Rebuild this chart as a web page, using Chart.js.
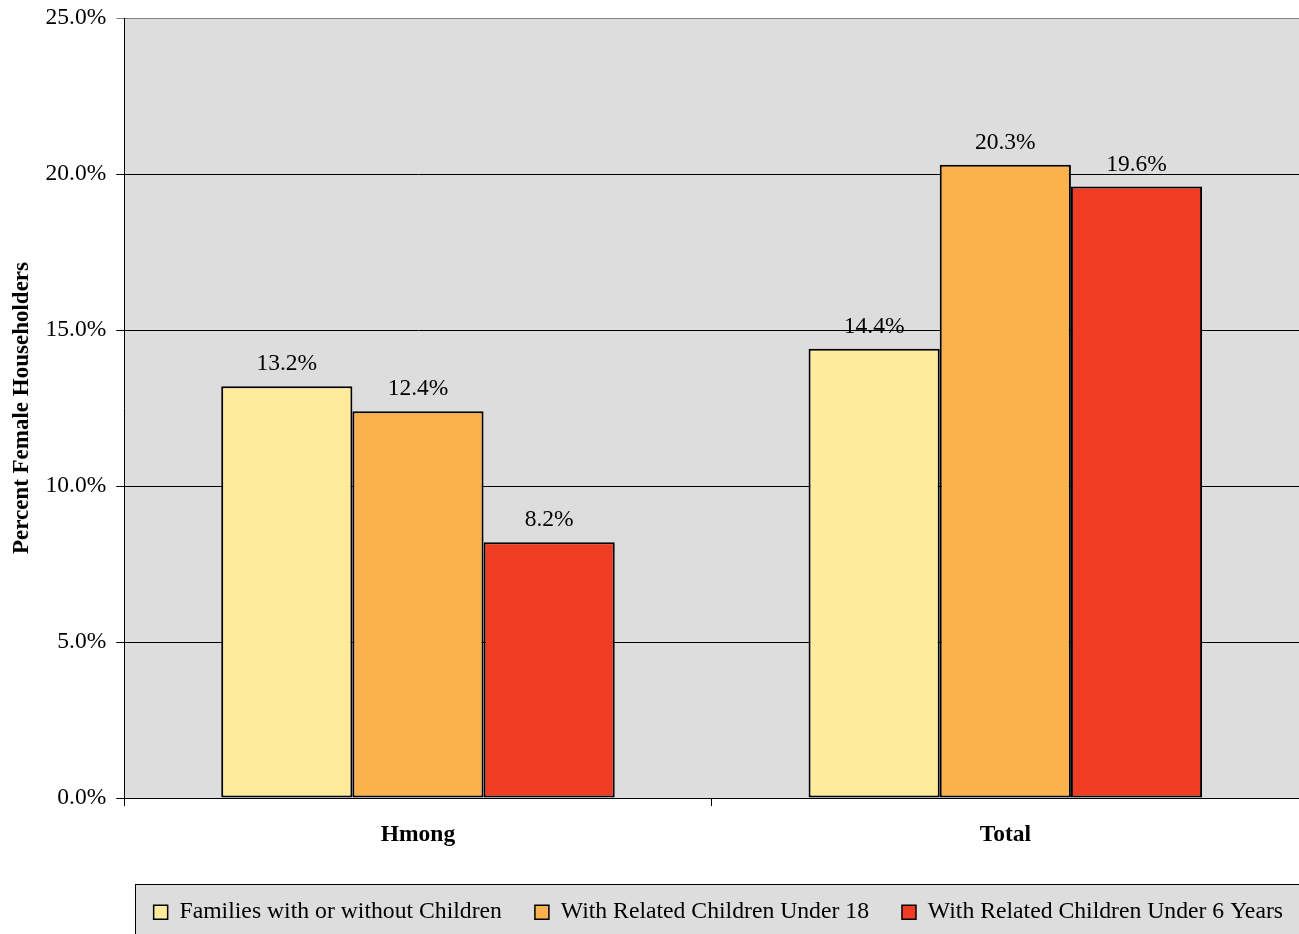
<!DOCTYPE html>
<html>
<head>
<meta charset="utf-8">
<script src="https://cdn.jsdelivr.net/npm/chart.js@4.4.0/dist/chart.umd.min.js"></script>
<style>
html,body{margin:0;padding:0;background:#fff;}
canvas{display:block;}
</style>
</head>
<body>
<canvas id="c" width="1299" height="934" style="width:1299px;height:934px"></canvas>
<script>
const categories = ["Hmong", "Total"];
const seriesNames = ["Families with or without Children", "With Related Children Under 18", "With Related Children Under 6 Years"];
const familiesAll = [13.2, 14.4];
const under18 = [12.4, 20.3];
const under6 = [8.2, 19.6];
const yTicks = [0, 5, 10, 15, 20, 25];
const colors = ["#FFEB9C", "#FBB14C", "#F03C22"];

const FONT = "'Liberation Serif', 'Times New Roman', serif";

const bgPlugin = {
  id: 'bg',
  afterLayout(chart) {
    // legend items end-aligned to the right edge of the legend frame
    if (chart.legend) chart.legend.right = 1316;
  },
  beforeDraw(chart) {
    const {ctx, chartArea: a} = chart;
    ctx.save();
    ctx.fillStyle = '#DDDDDD';
    ctx.fillRect(a.left, a.top, a.right - a.left, a.bottom - a.top);
    const lg = chart.legend;
    if (lg) {
      const top = Math.round(lg.bottom - 50) + 0.5;
      ctx.fillStyle = '#DDDDDD';
      ctx.fillRect(135.5, top, chart.width, chart.height);
      ctx.strokeStyle = '#000';
      ctx.lineWidth = 1;
      ctx.strokeRect(135.5, top, chart.width, chart.height);
    }
    ctx.restore();
  }
};

const labelPlugin = {
  id: 'vlabels',
  afterDatasetsDraw(chart) {
    const {ctx} = chart;
    ctx.save();
    ctx.font = "23.5px " + FONT;
    ctx.fillStyle = '#000';
    ctx.textAlign = 'center';
    ctx.textBaseline = 'alphabetic';
    chart.data.datasets.forEach((ds, i) => {
      const meta = chart.getDatasetMeta(i);
      meta.data.forEach((el, j) => {
        ctx.fillText(ds.data[j].toFixed(1) + '%', el.x, el.y - 16);
      });
    });
    ctx.restore();
  }
};

new Chart(document.getElementById('c'), {
  type: 'bar',
  data: {
    labels: categories,
    datasets: [
      {label: seriesNames[0], data: familiesAll, backgroundColor: colors[0]},
      {label: seriesNames[1], data: under18, backgroundColor: colors[1]},
      {label: seriesNames[2], data: under6, backgroundColor: colors[2]}
    ].map(d => Object.assign(d, {borderColor: '#000', borderWidth: 2, borderSkipped: false, categoryPercentage: 0.67, barPercentage: 1.0}))
  },
  options: {
    responsive: false,
    devicePixelRatio: 1,
    animation: false,
    layout: {padding: {top: 18, right: 0, left: 8, bottom: 0}},
    plugins: {
      tooltip: {enabled: false},
      legend: {
        position: 'bottom',
        align: 'end',
        labels: {
          font: {family: FONT, size: 23.7},
          color: '#000',
          boxWidth: 14,
          boxHeight: 14,
          padding: 33,
          generateLabels(chart) {
            return chart.data.datasets.map((ds, i) => ({
              text: ds.label, fillStyle: ds.backgroundColor, strokeStyle: '#000', lineWidth: 1.5, hidden: false, datasetIndex: i, fontColor: '#000'
            }));
          }
        }
      }
    },
    scales: {
      x: {
        grid: {offset: true, drawOnChartArea: false, color: '#000', tickLength: 8, lineWidth: 1},
        border: {color: '#000', width: 1},
        ticks: {font: {family: FONT, size: 23.5, weight: 'bold'}, color: '#000', padding: 15},
        afterFit(scale) { scale.height += 3; }
      },
      y: {
        min: 0, max: 25,
        afterBuildTicks(scale) { scale.ticks = yTicks.map(v => ({value: v})); },
        ticks: {font: {family: FONT, size: 23.5, lineHeight: 0.5}, color: '#000', padding: 10, callback: v => Number(v).toFixed(1) + '%'},
        grid: {color: c => (c.tick && c.tick.value === 25) ? '#808080' : '#000', lineWidth: 1, tickLength: 8},
        border: {color: '#000', width: 1},
        title: {display: true, text: 'Percent Female Householders', font: {family: FONT, size: 23, weight: 'bold'}, color: '#000', padding: {top: 0, bottom: 0}}
      }
    }
  },
  plugins: [bgPlugin, labelPlugin]
});
</script>
</body>
</html>
